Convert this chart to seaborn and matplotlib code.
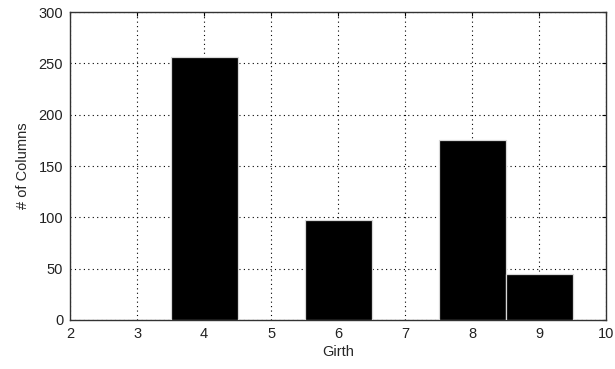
import matplotlib
matplotlib.use("Agg")
import matplotlib.pyplot as plt
import seaborn as sns
import pandas as pd

girth = [4, 6, 8, 9]
columns = [256, 97, 175, 45]
x_ticks = [2, 3, 4, 5, 6, 7, 8, 9, 10]
y_ticks = [0, 50, 100, 150, 200, 250, 300]

sns.set_style("white")
plt.rcParams["font.family"] = ["Liberation Sans", "DejaVu Sans"]

df = pd.DataFrame({"Girth": girth, "Columns": columns})

fig = plt.figure(figsize=(6.15, 3.69), dpi=100)
ax = fig.add_axes([0.114, 0.133, 0.872, 0.834])

sns.barplot(data=df, x="Girth", y="Columns", native_scale=True, width=1.0,
            color="black", saturation=1, edgecolor="#d8d8d8", linewidth=0.9,
            ax=ax, zorder=3)

ax.set_xlim(2, 10)
ax.set_ylim(0, 300)
ax.set_xticks(x_ticks)
ax.set_yticks(y_ticks)
ax.set_xticklabels([str(t) for t in x_ticks], fontsize=10.5)
ax.set_yticklabels([str(t) for t in y_ticks], fontsize=10.5)
ax.grid(True, color="black", linestyle=(0, (1, 3)), linewidth=0.8, zorder=0)
ax.set_axisbelow(True)
ax.tick_params(direction="in", length=3, top=True, right=True, colors="black",
               labelcolor="#222222", pad=5)
for s in ax.spines.values():
    s.set_color("#333333")
    s.set_linewidth(1.0)

ax.set_xlabel("Girth", fontsize=10.5, labelpad=3)
ax.set_ylabel("# of Columns", fontsize=10.5, labelpad=6)

fig.savefig("out.png", dpi=100, facecolor="white")
